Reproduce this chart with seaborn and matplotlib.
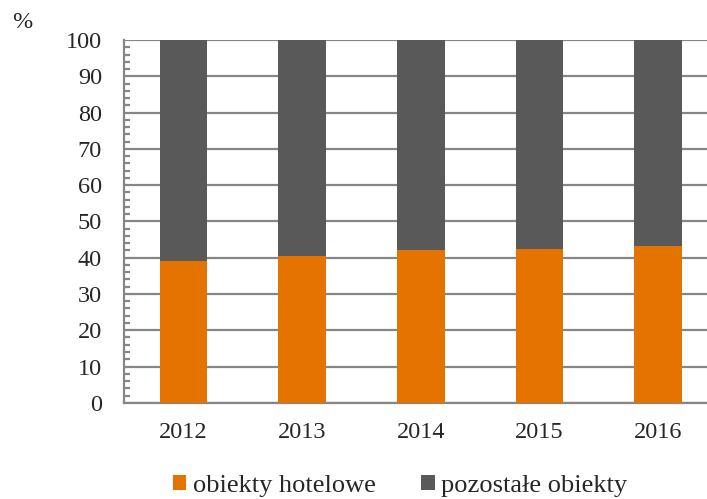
import matplotlib
matplotlib.use("Agg")
import matplotlib.pyplot as plt
from matplotlib.patches import Patch
from matplotlib.ticker import MultipleLocator
import seaborn as sns
import pandas as pd

years = ["2012", "2013", "2014", "2015", "2016"]
hotelowe = [39.2, 40.4, 42.1, 42.5, 43.2]
pozostale = [60.8, 59.6, 57.9, 57.5, 56.8]
labels = ["obiekty hotelowe", "pozostałe obiekty"]
colors = ["#E57300", "#595959"]

sns.set_style("white")
plt.rcParams["font.serif"] = ["Liberation Serif", "Times New Roman", "DejaVu Serif"]
plt.rcParams["font.family"] = "serif"

df = pd.DataFrame({"rok": years, "hotel": hotelowe, "inne": pozostale})
df["suma"] = df["hotel"] + df["inne"]

fig = plt.figure(figsize=(7.07, 4.99), dpi=100)
ax = fig.add_axes([124.3 / 707, 1 - 402.8 / 499, 593 / 707, 362.8 / 499])

sns.barplot(data=df, x="rok", y="suma", color=colors[1], saturation=1,
            width=0.4, ax=ax, edgecolor="none", zorder=2)
sns.barplot(data=df, x="rok", y="hotel", color=colors[0], saturation=1,
            width=0.4, ax=ax, edgecolor="none", zorder=3)

grid_c = "#868686"
ax.set_ylim(0, 100)
ax.set_xlim(-0.5, 4.5)
ax.yaxis.set_major_locator(MultipleLocator(10))
ax.yaxis.set_minor_locator(MultipleLocator(2))
ax.set_axisbelow(True)
ax.yaxis.grid(True, which="major", color=grid_c, linewidth=1.6, zorder=0)
ax.set_xlabel("")
ax.set_ylabel("")

for s in ["top", "right"]:
    ax.spines[s].set_visible(False)
for s in ["left", "bottom"]:
    ax.spines[s].set_color(grid_c)
    ax.spines[s].set_linewidth(1.6)

ax.set_xticks([-0.5, 0.5, 1.5, 2.5, 3.5, 4.5], minor=True)
ax.tick_params(axis="x", which="major", length=0, pad=13.5, labelsize=17.5)
ax.tick_params(axis="x", which="minor", length=6, width=1.6, color=grid_c, direction="out")
ax.tick_params(axis="y", which="major", length=6, width=1.6, color=grid_c,
               direction="out", pad=10, labelsize=17.5)
ax.tick_params(axis="y", which="minor", length=4.5, width=1.6, color=grid_c,
               direction="in", left=True)

fig.text(22 / 707, 1 - 22 / 499, "%", fontsize=17.5, ha="center", va="center")

handles = [Patch(facecolor=c, edgecolor="none") for c in colors]
fig.legend(handles, labels, loc="center", bbox_to_anchor=(400 / 707, 1 - 486 / 499),
           ncol=2, frameon=False, fontsize=19, handlelength=0.52, handleheight=0.52,
           handletextpad=0.25, columnspacing=1.7, borderpad=0)

fig.savefig("out.png", dpi=100)
